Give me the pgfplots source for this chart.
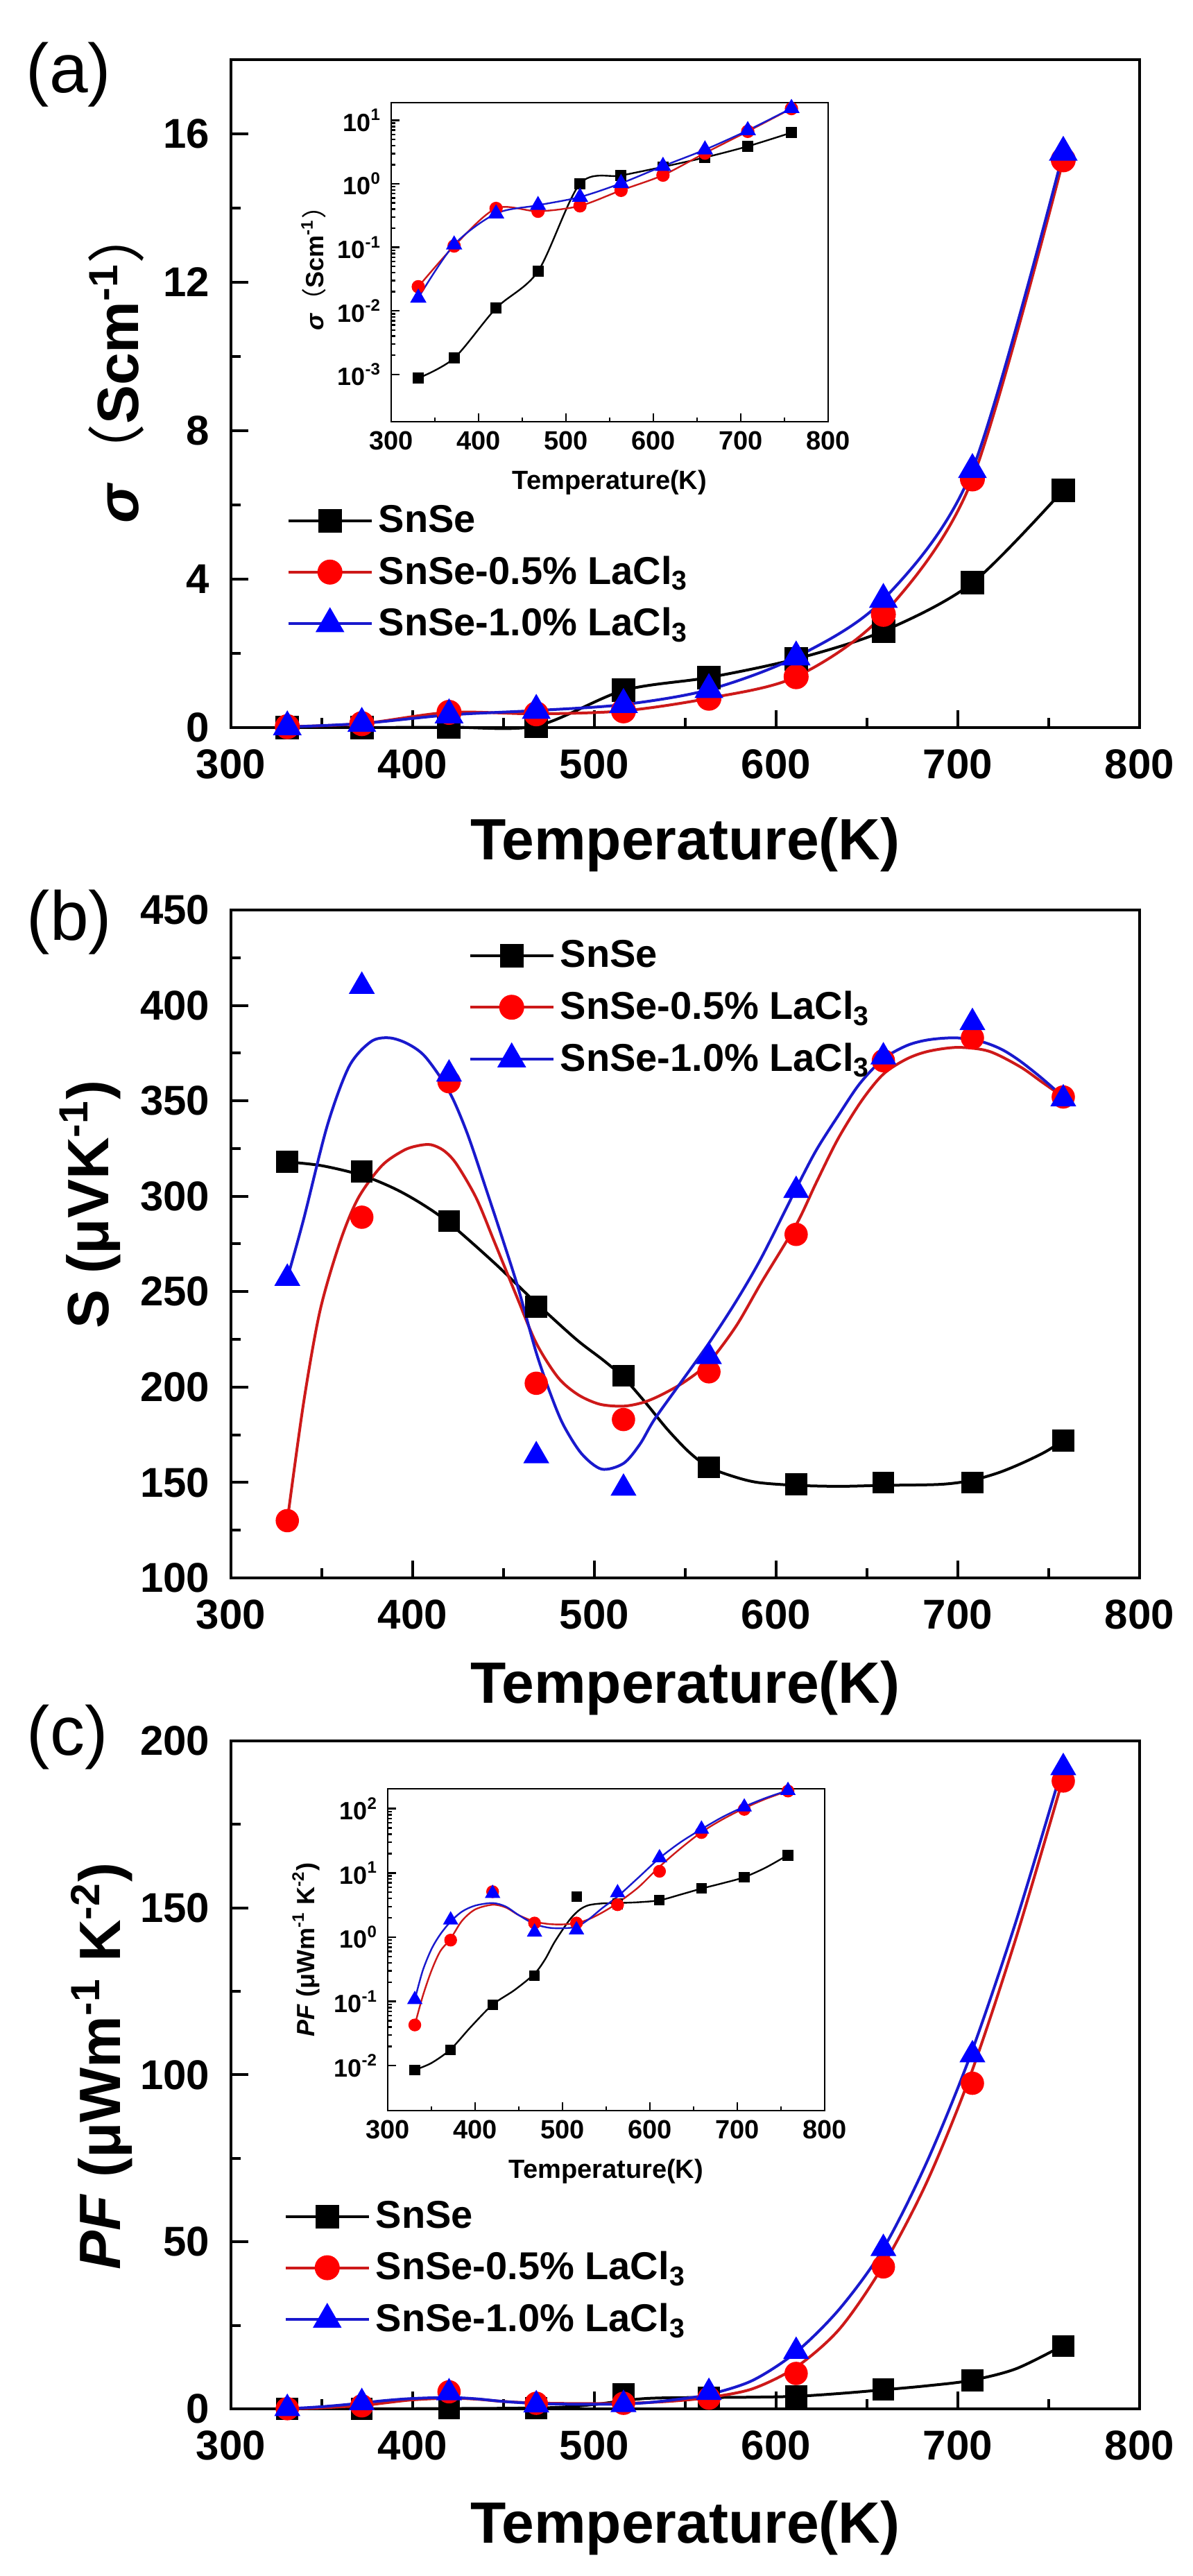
\documentclass[border=0pt]{standalone}
\usepackage{pgfplots}
\usepackage{pgfplotstable}
\pgfplotsset{compat=1.18}
\usepackage{fontspec}
\setmainfont{Liberation Sans}
\newfontfamily\cjk{Noto Sans CJK SC}
\definecolor{mred}{RGB}{255,0,0}
\definecolor{mblue}{RGB}{0,0,255}
\definecolor{lred}{RGB}{205,25,25}
\definecolor{lblue}{RGB}{25,25,205}
\newcommand{\fs}[1]{\fontsize{#1}{#1}\selectfont}

\pgfplotstableread{
T s0 s1 s2
331 0.00087 0.024 0.016
372 0.0018 0.105 0.11
420 0.011 0.41 0.34
468 0.042 0.37 0.46
516 1.0 0.45 0.62
563 1.35 0.79 1.02
611 1.85 1.37 1.9
659 2.6 3.05 3.45
708 3.9 6.7 6.95
758 6.4 15.3 15.5
}\sigdata

\pgfplotstableread{
T S0 S1 S2
331 318 130 257
372 313 289 410
420 287 360 364
468 242 202 164
516 206 183 147
563 158 208 216
611 149 280 303
659 150 371 373
708 150 383 391
758 172 352 351
}\Sdata

\pgfplotstableread{
T P0 P1 P2
331 0.0086 0.043 0.107
372 0.0177 0.9 1.85
420 0.089 5.1 4.8
468 0.25 1.66 1.2
516 4.3 1.66 1.3
563 3.3 3.2 4.9
611 3.8 10.6 17.2
659 5.8 42.5 48
708 8.5 97.5 106
758 18.8 188 192
}\PFdata

\pgfplotstableread{
T v
331 318
350 316
372 311
390 304
405 296
420 286
445 265
468 244
490 225
505 214
516 205
528 192
540 178
552 166
563 158
577 153
590 150
611 148.5
635 148
659 148.5
690 149
707 151
722 155
735 160
748 166
758 172
}\Sck

\pgfplotstableread{
T v
331 130
340 192
349 240
360 276
370 299
383 316
395 324
403 326.5
410 327
417 324
424 317
435 299
445 276
457 248
468 223
480 205
491 196
503 191
516 190
527 192
537 196
550 203
563 213
578 232
592 255
611 285
622 307
634 330
647 350
659 364
672 372
684 376
700 378
717 376
734 368
746 360
758 352
}\Scr

\pgfplotstableread{
T v
331 257
340 288
353 337
365 368
377 381
387 383
397 380
407 373
420 355
430 333
441 302
450 276
458 252
468 218
476 196
483 180
493 165
504 157
516 160
525 170
533 183
548 203
563 223
578 245
592 268
611 304
622 324
634 342
646 359
659 372
672 379
684 382
699 383
713 381
724 377
734 371
746 362
758 352
}\Scb

\pgfplotstableread{
T v
331 0.0086
350 0.011
372 0.018
395 0.04
420 0.089
445 0.15
468 0.27
480 0.45
490 0.8
500 1.3
510 2.0
520 2.7
530 3.15
545 3.35
563 3.4
587 3.5
611 3.75
635 4.6
659 5.7
683 6.9
707 8.5
732 12
758 19
}\Pck

\pgfplotstableread{
T v
331 0.043
340 0.12
350 0.3
360 0.6
372 0.95
385 1.8
400 2.7
420 3.2
435 2.9
450 2.2
468 1.75
485 1.6
500 1.58
516 1.65
530 1.9
545 2.4
563 3.4
587 6.0
611 12.5
635 24
659 43
683 68
707 100
732 141
758 189
}\Pcr

\pgfplotstableread{
T v
331 0.107
340 0.3
350 0.65
360 1.1
372 1.75
385 2.5
400 3.1
420 3.4
435 3.0
450 2.2
468 1.6
485 1.4
500 1.38
516 1.45
530 1.9
545 2.8
563 4.3
587 8.5
611 17
635 30
659 48
683 74
707 106
732 146
758 193
}\Pcb

\pgfplotsset{
  msq/.style={mark=square*, mark size=3.75pt, mark options={solid, draw=black, fill=black}},
  mci/.style={mark=*, mark size=4pt, mark options={solid, draw=mred, fill=mred}},
  mtr/.style={mark=triangle*, mark size=5pt, mark options={solid, draw=mblue, fill=mblue}},
  isq/.style={mark=square*, mark size=1.7pt, mark options={solid, draw=black, fill=black}},
  ici/.style={mark=*, mark size=2.1pt, mark options={solid, draw=mred, fill=mred}},
  itr/.style={mark=triangle*, mark size=2.8pt, mark options={solid, draw=mblue, fill=mblue}},
  mainax/.style={
    scale only axis, width=327.5pt, height=240.75pt, anchor=south west,
    xmin=300, xmax=800, xtick={300,400,...,800}, minor xtick={350,450,...,750},
    tick pos=left, tick align=inside,
    axis line style={line width=1.2pt},
    major tick style={line width=1pt, black}, minor tick style={line width=1pt, black},
    major tick length=6.25pt, minor tick length=3.5pt,
    ticklabel style={font=\bfseries\fs{15}, inner sep=0pt},
    xticklabel style={yshift=-7.75pt},
    yticklabel style={xshift=-7.5pt},
    /pgf/number format/assume math mode=true,
    /pgf/number format/1000 sep={},
    xlabel style={font=\bfseries\fs{21}, anchor=center},
    ylabel style={font=\bfseries\fs{21}, anchor=center},
    clip=false,
    legend cell align=left,
    legend image code/.code={\draw[mark repeat=2,mark phase=2,##1] plot coordinates {(0pt,0pt) (15pt,0pt) (30pt,0pt)};},
    legend style={anchor=north west, draw=none, fill=none, font=\bfseries\fs{14}, row sep=3pt, inner sep=0pt},
  },
  inax/.style={
    scale only axis, width=157.5pt, anchor=south west,
    xmin=300, xmax=800, xtick={300,400,...,800}, minor xtick={350,450,...,750},
    tick pos=left, tick align=inside,
    axis line style={line width=0.7pt},
    major tick style={line width=0.6pt, black}, minor tick style={line width=0.6pt, black},
    major tick length=3pt, minor tick length=1.6pt,
    xticklabel style={font=\bfseries\fs{9.5}},
    yticklabel style={font=\bfseries\fs{9}},
    /pgf/number format/assume math mode=true,
    xlabel style={font=\bfseries\fs{9.5}, anchor=center, at={(axis description cs:0.5,-0.19)}},
    ylabel style={font=\bfseries\fs{9}, anchor=center},
    axis background/.style={fill=white},
    clip=false,
  },
}

\begin{document}
\begin{tikzpicture}
\path[use as bounding box] (0,0) rectangle (430pt,928.5pt);

% ---------------- panel (a)
\begin{axis}[mainax, at={(83.25pt,666.25pt)},
  ymin=0, ymax=18, ytick={0,4,8,12,16}, minor ytick={2,6,10,14},
  xlabel={Temperature(K)}, xlabel style={at={(axis description cs:0.5,-0.1755)}},
  ylabel={\textit{σ}{\cjk\mdseries （}Scm\textsuperscript{-1}{\cjk\mdseries ）}},
  ylabel style={at={(axis description cs:-0.126,0.544)}},
  legend style={at={(rel axis cs:0.061,0.342)}}]
\addlegendimage{black, line width=1pt, msq}\addlegendentry{SnSe}
\addlegendimage{lred, line width=1pt, mci}\addlegendentry{SnSe-0.5\% LaCl\textsubscript{3}}
\addlegendimage{lblue, line width=1pt, mtr}\addlegendentry{SnSe-1.0\% LaCl\textsubscript{3}}
\addplot[black, line width=1pt, smooth, msq, forget plot] table[x=T,y=s0] {\sigdata};
\addplot[lred, line width=1pt, smooth, mci, forget plot] table[x=T,y=s1] {\sigdata};
\addplot[lblue, line width=1pt, smooth, mtr, forget plot] table[x=T,y=s2] {\sigdata};
\end{axis}

\begin{semilogyaxis}[inax, at={(141pt,776.5pt)}, height=115pt,
  ymin=1.8e-4, ymax=19,
  ytick={1e-3,1e-2,1e-1,1,10},
  yticklabels={10\textsuperscript{-3},10\textsuperscript{-2},10\textsuperscript{-1},10\textsuperscript{0},10\textsuperscript{1}},
  xlabel={Temperature(K)},
  ylabel={\textit{σ}{\cjk\mdseries （}Scm\textsuperscript{-1}{\cjk\mdseries ）}},
  ylabel style={at={(axis description cs:-0.178,0.5)}}]
\addplot[black, line width=0.6pt, smooth, isq] table[x=T,y=s0] {\sigdata};
\addplot[lred, line width=0.6pt, smooth, ici] table[x=T,y=s1] {\sigdata};
\addplot[lblue, line width=0.6pt, smooth, itr] table[x=T,y=s2] {\sigdata};
\end{semilogyaxis}

% ---------------- panel (b)
\begin{axis}[mainax, at={(83.25pt,359.75pt)},
  ymin=100, ymax=450, ytick={100,150,...,450}, minor ytick={125,175,...,425},
  xlabel={Temperature(K)}, xlabel style={at={(axis description cs:0.5,-0.165)}},
  ylabel={S (μVK\textsuperscript{-1})},
  ylabel style={at={(axis description cs:-0.155,0.559)}},
  legend style={at={(rel axis cs:0.261,0.9636)}}]
\addlegendimage{black, line width=1pt, msq}\addlegendentry{SnSe}
\addlegendimage{lred, line width=1pt, mci}\addlegendentry{SnSe-0.5\% LaCl\textsubscript{3}}
\addlegendimage{lblue, line width=1pt, mtr}\addlegendentry{SnSe-1.0\% LaCl\textsubscript{3}}
\addplot[black, line width=1pt, smooth, no marks, forget plot] table[x=T,y=v] {\Sck};
\addplot[lred, line width=1pt, smooth, no marks, forget plot] table[x=T,y=v] {\Scr};
\addplot[lblue, line width=1pt, smooth, no marks, forget plot] table[x=T,y=v] {\Scb};
\addplot[only marks, msq, forget plot] table[x=T,y=S0] {\Sdata};
\addplot[only marks, mci, forget plot] table[x=T,y=S1] {\Sdata};
\addplot[only marks, mtr, forget plot] table[x=T,y=S2] {\Sdata};
\end{axis}

% ---------------- panel (c)
\begin{axis}[mainax, at={(83.25pt,60.25pt)},
  ymin=0, ymax=200, ytick={0,50,...,200}, minor ytick={25,75,...,175},
  xlabel={Temperature(K)}, xlabel style={at={(axis description cs:0.5,-0.178)}},
  ylabel={\textit{PF} (μWm\textsuperscript{-1} K\textsuperscript{-2})},
  ylabel style={at={(axis description cs:-0.142,0.513)}},
  legend style={at={(rel axis cs:0.058,0.3205)}}]
\addlegendimage{black, line width=1pt, msq}\addlegendentry{SnSe}
\addlegendimage{lred, line width=1pt, mci}\addlegendentry{SnSe-0.5\% LaCl\textsubscript{3}}
\addlegendimage{lblue, line width=1pt, mtr}\addlegendentry{SnSe-1.0\% LaCl\textsubscript{3}}
\addplot[black, line width=1pt, smooth, no marks, forget plot] table[x=T,y=v] {\Pck};
\addplot[lred, line width=1pt, smooth, no marks, forget plot] table[x=T,y=v] {\Pcr};
\addplot[lblue, line width=1pt, smooth, no marks, forget plot] table[x=T,y=v] {\Pcb};
\addplot[only marks, msq, forget plot] table[x=T,y=P0] {\PFdata};
\addplot[only marks, mci, forget plot] table[x=T,y=P1] {\PFdata};
\addplot[only marks, mtr, forget plot] table[x=T,y=P2] {\PFdata};
\end{axis}

\begin{semilogyaxis}[inax, at={(139.75pt,167.75pt)}, height=116pt,
  ymin=0.002, ymax=204,
  ytick={1e-2,1e-1,1,10,100},
  yticklabels={10\textsuperscript{-2},10\textsuperscript{-1},10\textsuperscript{0},10\textsuperscript{1},10\textsuperscript{2}},
  xlabel={Temperature(K)},
  ylabel={\textit{PF} (μWm\textsuperscript{-1} K\textsuperscript{-2})},
  ylabel style={at={(axis description cs:-0.187,0.5)}}]
\addplot[black, line width=0.6pt, smooth, no marks] table[x=T,y=v] {\Pck};
\addplot[lred, line width=0.6pt, smooth, no marks] table[x=T,y=v] {\Pcr};
\addplot[lblue, line width=0.6pt, smooth, no marks] table[x=T,y=v] {\Pcb};
\addplot[only marks, isq] table[x=T,y=P0] {\PFdata};
\addplot[only marks, ici] table[x=T,y=P1] {\PFdata};
\addplot[only marks, itr] table[x=T,y=P2] {\PFdata};
\end{semilogyaxis}

\node[font=\fs{25}] at (24.75pt,901.5pt) {(a)};
\node[font=\fs{25}] at (25pt,596pt) {(b)};
\node[font=\fs{25}] at (24.25pt,302.25pt) {(c)};
\end{tikzpicture}
\end{document}
